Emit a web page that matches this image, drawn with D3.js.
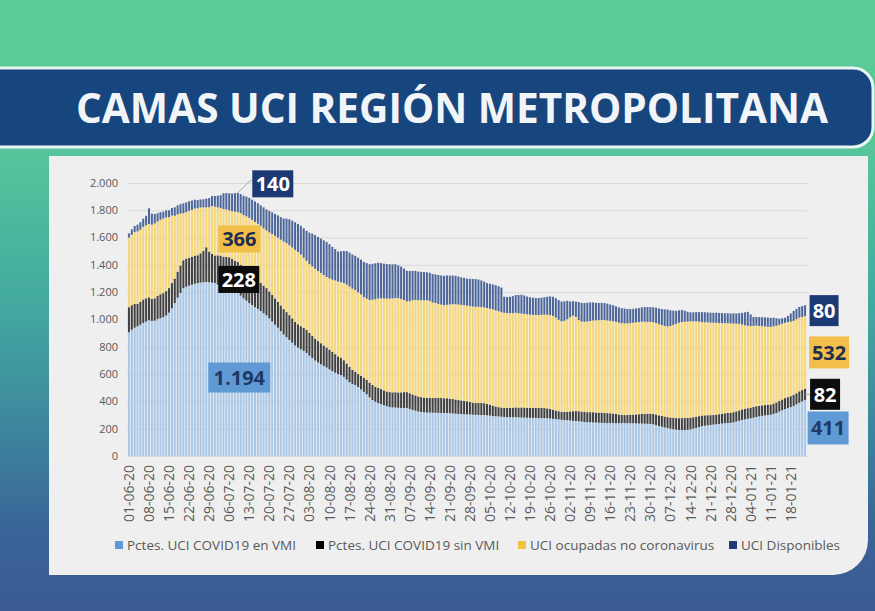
<!DOCTYPE html>
<html>
<head>
<meta charset="utf-8">
<script src="https://cdn.jsdelivr.net/npm/d3@7"></script>
<style>
  html, body { margin: 0; padding: 0; background: #3a5a94; }
  svg { display: block; }
</style>
</head>
<body>
<div id="chart"></div>
<script>
// Datos diarios 01-06-20 .. 23-01-21 (una fila = una semana)
const vmi = [
  907, 925, 940, 950, 962, 975, 985,
  995, 990, 992, 1003, 1010, 1017, 1030,
  1050, 1082, 1120, 1160, 1195, 1229, 1240,
  1248, 1255, 1262, 1266, 1270, 1273, 1275,
  1273, 1270, 1268, 1255, 1243, 1229, 1222,
  1215, 1208, 1200, 1194, 1175, 1155, 1138,
  1120, 1105, 1090, 1078, 1062, 1046, 1030,
  1008, 985, 962, 940, 915, 890, 870,
  850, 830, 810, 795, 782, 770, 755,
  735, 718, 700, 685, 672, 660, 648,
  635, 622, 610, 600, 593, 580, 560,
  540, 528, 520, 505, 488, 470, 452,
  430, 410, 398, 387, 380, 372, 365,
  359, 356, 355, 353, 352, 352, 351,
  345, 338, 332, 326, 322, 320, 318,
  318, 317, 317, 316, 316, 315, 315,
  314, 312, 310, 308, 307, 306, 305,
  304, 303, 302, 301, 300, 300, 298,
  296, 293, 291, 290, 288, 286, 285,
  285, 284, 284, 283, 282, 281, 280,
  280, 279, 279, 278, 278, 278, 277,
  275, 272, 270, 268, 265, 263, 262,
  260, 258, 256, 254, 252, 249, 248,
  247, 246, 245, 244, 243, 242, 241,
  241, 241, 240, 240, 241, 241, 240,
  240, 240, 239, 238, 238, 237, 236,
  235, 232, 226, 220, 214, 209, 205,
  200, 196, 193, 191, 190, 190, 192,
  195, 200, 206, 212, 218, 222, 225,
  227, 230, 233, 235, 238, 240, 241,
  242, 246, 252, 258, 264, 268, 272,
  276, 280, 286, 290, 294, 297, 300,
  302, 308, 315, 325, 335, 344, 351,
  358, 366, 378, 390, 400, 411
];

const sinVmi = [
  183, 180, 175, 165, 168, 172, 170,
  168, 160, 163, 170, 175, 176, 178,
  180, 185, 180, 190, 200, 205, 206,
  204, 205, 206, 205, 215, 230, 254,
  225, 210, 201, 215, 225, 231, 236,
  241, 235, 232, 228, 226, 222, 220,
  218, 215, 212, 208, 205, 202, 200,
  198, 196, 193, 190, 188, 186, 184,
  182, 178, 172, 170, 169, 168, 168,
  166, 163, 160, 157, 154, 150, 147,
  144, 140, 136, 130, 126, 122, 118,
  112, 104, 98, 95, 100, 104, 106,
  108, 110, 110, 112, 110, 109, 108,
  109, 110, 112, 113, 114, 116, 117,
  115, 113, 112, 110, 109, 108, 108,
  108, 108, 109, 110, 109, 108, 108,
  106, 105, 104, 102, 100, 98, 96,
  92, 88, 86, 88, 88, 87, 84,
  80, 76, 72, 68, 66, 66, 67,
  68, 70, 72, 72, 73, 74, 73,
  72, 73, 73, 74, 74, 73, 72,
  70, 68, 64, 60, 59, 60, 62,
  66, 70, 73, 74, 73, 74, 73,
  74, 75, 74, 73, 74, 74, 73,
  72, 70, 68, 64, 60, 59, 60,
  62, 64, 66, 68, 70, 72, 74,
  75, 76, 78, 78, 79, 80, 80,
  82, 84, 85, 86, 88, 88, 87,
  86, 84, 82, 80, 78, 76, 74,
  72, 70, 70, 71, 72, 73, 74,
  74, 75, 75, 76, 77, 78, 78,
  78, 79, 79, 78, 77, 76, 75,
  75, 76, 77, 78, 79, 80, 80,
  80, 81, 82, 84, 83, 82
];

const noCovid = [
  510, 515, 525, 530, 528, 532, 535,
  537, 545, 548, 545, 546, 547, 540,
  520, 495, 460, 420, 380, 344, 340,
  345, 344, 345, 344, 336, 318, 293,
  324, 351, 358, 352, 348, 350, 348,
  344, 350, 358, 366, 378, 388, 398,
  407, 410, 413, 415, 418, 420, 422,
  432, 445, 458, 470, 482, 495, 505,
  512, 520, 528, 530, 525, 515, 507,
  505, 508, 512, 513, 515, 516, 517,
  522, 530, 540, 548, 555, 565, 578,
  590, 594, 598, 600, 596, 590, 595,
  605, 625, 640, 655, 665, 673, 680,
  685, 688, 690, 691, 685, 675, 664,
  675, 690, 700, 705, 710, 713, 715,
  710, 700, 695, 688, 684, 682, 685,
  690, 695, 698, 700, 700, 701, 700,
  702, 704, 705, 704, 703, 702, 702,
  703, 705, 704, 703, 700, 697, 695,
  693, 692, 693, 690, 688, 686, 685,
  683, 682, 681, 681, 682, 684, 686,
  688, 686, 680, 670, 662, 668, 678,
  690, 700, 690, 668, 660, 660, 664,
  668, 672, 675, 678, 680, 680, 679,
  677, 676, 675, 673, 672, 672, 671,
  671, 672, 674, 675, 676, 675, 673,
  672, 672, 670, 668, 666, 664, 664,
  670, 680, 690, 700, 704, 706, 706,
  706, 703, 698, 692, 686, 682, 680,
  678, 676, 673, 668, 664, 660, 658,
  655, 650, 642, 634, 622, 612, 604,
  598, 594, 590, 585, 580, 576, 572,
  569, 566, 562, 558, 555, 552, 550,
  546, 543, 542, 540, 536, 532
];

const disponibles = [
  30, 40, 45, 50, 55, 60, 70,
  115, 80, 70, 60, 55, 50, 52,
  50, 55, 62, 66, 70, 73, 72,
  70, 68, 65, 60, 58, 60, 63,
  68, 73, 78, 85, 95, 115, 120,
  125, 130, 136, 140, 140, 142, 144,
  146, 148, 150, 151, 152, 154, 155,
  157, 159, 161, 163, 165, 169, 180,
  190, 196, 202, 205, 210, 215, 220,
  230, 240, 247, 250, 252, 254, 256,
  250, 240, 230, 220, 225, 235, 245,
  248, 250, 251, 252, 255, 258, 260,
  262, 263, 264, 262, 258, 255, 253,
  252, 250, 248, 240, 236, 230, 225,
  220, 215, 212, 210, 208, 206, 205,
  206, 208, 210, 212, 214, 215, 214,
  212, 210, 208, 205, 202, 200, 198,
  200, 202, 203, 200, 195, 188, 183,
  182, 183, 184, 183, 180, 118, 118,
  120, 125, 130, 135, 138, 135, 130,
  128, 126, 124, 124, 125, 128, 132,
  136, 140, 142, 144, 146, 142, 135,
  116, 106, 112, 132, 136, 138, 138,
  136, 132, 128, 126, 125, 124, 123,
  120, 117, 114, 112, 110, 108, 106,
  104, 102, 102, 103, 105, 107, 108,
  109, 110, 112, 115, 118, 121, 124,
  115, 105, 95, 90, 88, 80, 72,
  65, 66, 68, 70, 72, 73, 73,
  73, 73, 74, 74, 73, 73, 73,
  73, 74, 75, 78, 85, 95, 102,
  85, 66, 64, 65, 66, 66, 67,
  66, 64, 55, 45, 40, 37, 45,
  60, 73, 76, 78, 79, 80
];

const yTicks = [0, 200, 400, 600, 800, 1000, 1200, 1400, 1600, 1800, 2000];
const seriesNames = ["Pctes. UCI COVID19 en VMI", "Pctes. UCI COVID19 sin VMI",
                     "UCI ocupadas no coronavirus", "UCI Disponibles"];
const labelDay = "09-07-20";

const fmtDate = d3.timeFormat("%d-%m-%y");
const dates = d3.timeDay.range(new Date(2020, 5, 1), new Date(2021, 0, 24)).map(fmtDate);
const tickLabels = dates.filter((d, i) => i % 7 === 0);

const es = d3.formatLocale({ decimal: ",", thousands: ".", grouping: [3], currency: ["$", ""] });
const fmt = es.format(",d");

const keys = ["vmi", "sinVmi", "noCovid", "disponibles"];
const barColors = ["#a9c8e8", "#404040", "#f7d676", "#4d6699"];
const legendColors = ["#5b9bd5", "#000000", "#f5c242", "#1f3a78"];
const table = dates.map((d, i) => ({
  date: d, vmi: vmi[i], sinVmi: sinVmi[i], noCovid: noCovid[i], disponibles: disponibles[i]
}));

const W = 875, H = 611;
const font = "'Open Sans', sans-serif";
const svg = d3.select("#chart").append("svg").attr("width", W).attr("height", H);

// Fondo degradado
const grad = svg.append("defs").append("linearGradient")
  .attr("id", "bg").attr("x1", 0).attr("y1", 0).attr("x2", 0).attr("y2", 1);
[[0, "#5dcc98"], [0.22, "#58c89a"], [0.5, "#43a9a0"], [0.7, "#3d869d"], [0.87, "#3a6497"], [1, "#3a5a94"]]
  .forEach(s => grad.append("stop").attr("offset", s[0]).attr("stop-color", s[1]));
svg.append("rect").attr("width", W).attr("height", H).attr("fill", "url(#bg)");

// Banda del título
svg.append("path")
  .attr("d", "M-10,68 H853 A20,20 0 0 1 873,88 V127 A20,20 0 0 1 853,147 H-10 Z")
  .attr("fill", "#17467f").attr("stroke", "#e9f5f0").attr("stroke-width", 3);
svg.append("text")
  .attr("x", 452).attr("y", 123).attr("text-anchor", "middle")
  .attr("fill", "#f2f5f8")
  .attr("textLength", 752).attr("lengthAdjust", "spacingAndGlyphs")
  .style("font-family", font).style("font-weight", 700).style("font-size", "42px")
  .text("CAMAS UCI REGIÓN METROPOLITANA");

// Panel del gráfico
svg.append("path")
  .attr("d", "M49,156 H868 V540 A35,35 0 0 1 833,575 H49 Z")
  .attr("fill", "#efefef");

const x = d3.scaleBand().domain(dates).range([127.5, 806.5]).paddingInner(0.3).paddingOuter(0.15);
const y = d3.scaleLinear().domain([0, 2000]).range([456, 183]);

// Grilla
svg.append("g").selectAll("line").data(yTicks).join("line")
  .attr("x1", 127).attr("x2", 807)
  .attr("y1", d => y(d) + 0.5).attr("y2", d => y(d) + 0.5)
  .attr("stroke", "#d9d9d9").attr("stroke-width", 1);

// Eje Y
svg.append("g").selectAll("text").data(yTicks).join("text")
  .attr("x", 118).attr("y", d => y(d)).attr("dy", "0.35em")
  .attr("text-anchor", "end").attr("fill", "#595959")
  .style("font-family", font).style("font-size", "11px")
  .text(d => fmt(d));

// Barras apiladas
const stacked = d3.stack().keys(keys)(table);
svg.append("g").selectAll("g").data(stacked).join("g")
  .attr("fill", (d, i) => barColors[i])
  .selectAll("rect").data(d => d).join("rect")
  .attr("x", d => x(d.data.date))
  .attr("width", x.bandwidth())
  .attr("y", d => y(d[1]))
  .attr("height", d => y(d[0]) - y(d[1]));

// Eje X
const xAxis = svg.append("g")
  .attr("transform", "translate(0,456)")
  .call(d3.axisBottom(x).tickValues(tickLabels).tickSize(0));
xAxis.select(".domain").attr("stroke", "#d9d9d9");
xAxis.selectAll("text")
  .attr("transform", "rotate(-90)")
  .attr("x", -9).attr("y", 0).attr("dy", "0.36em")
  .attr("text-anchor", "end").attr("fill", "#595959")
  .style("font-family", font).style("font-size", "14px");

// Leyenda
const legendX = [115, 316, 518, 729];
const legend = svg.append("g").selectAll("g").data(seriesNames).join("g")
  .attr("transform", (d, i) => `translate(${legendX[i]},545)`);
legend.append("rect").attr("x", 0).attr("y", -4).attr("width", 8).attr("height", 8)
  .attr("fill", (d, i) => legendColors[i]);
legend.append("text").attr("x", 12).attr("y", 0).attr("dy", "0.36em")
  .attr("fill", "#595959").style("font-family", font).style("font-size", "13.5px")
  .text(d => d);

// Etiquetas de datos
function tag(cx, cy, w, h, fill, color, txt, size) {
  svg.append("rect").attr("x", cx - w / 2).attr("y", cy - h / 2)
    .attr("width", w).attr("height", h).attr("fill", fill);
  svg.append("text").attr("x", cx).attr("y", cy).attr("dy", "0.36em")
    .attr("text-anchor", "middle").attr("fill", color)
    .style("font-family", font).style("font-weight", 700).style("font-size", size + "px")
    .text(txt);
}

const boxFill = ["#5f9ad4", "#0d0d0d", "#f2c04a", "#1b3a73"];
const boxText = ["#1f3864", "#ffffff", "#1f2d50", "#ffffff"];

// Día del máximo
const pk = dates.indexOf(labelDay);
const pkStack = stacked.map(s => s[pk]);
const px = x(labelDay) + x.bandwidth() / 2;
const pTop = y(pkStack[3][1]);
svg.append("path")
  .attr("d", `M${px},${pTop} L${px + 12},${pTop - 12} L${px + 14},${pTop - 12}`)
  .attr("fill", "none").attr("stroke", "#a6a6a6").attr("stroke-width", 1);
tag(px + 35, pTop - 9, 41, 27, boxFill[3], boxText[3], fmt(disponibles[pk]), 20);
tag(px + 1.5, y((pkStack[2][0] + pkStack[2][1]) / 2) + 2, 42, 27, boxFill[2], boxText[2], fmt(noCovid[pk]), 20);
tag(px + 1, y((pkStack[1][0] + pkStack[1][1]) / 2) + 2, 41, 27, boxFill[1], boxText[1], fmt(sinVmi[pk]), 20);
tag(px + 1.5, y((pkStack[0][0] + pkStack[0][1]) / 2) + 3, 62, 30, boxFill[0], boxText[0], fmt(vmi[pk]), 20);

// Último día
const last = dates.length - 1;
const lStack = stacked.map(s => s[last]);
const lx = x(dates[last]) + x.bandwidth() + 2;
const mid = k => y((lStack[k][0] + lStack[k][1]) / 2);
svg.append("line").attr("x1", lx - 3).attr("x2", lx + 4)
  .attr("y1", mid(1)).attr("y2", mid(1)).attr("stroke", "#a6a6a6");
tag(lx + 16, mid(3), 29, 31, boxFill[3], boxText[3], fmt(disponibles[last]), 20);
tag(lx + 21, mid(2), 40, 32, boxFill[2], boxText[2], fmt(noCovid[last]), 20);
tag(lx + 17, mid(1), 30, 31, boxFill[1], boxText[1], fmt(sinVmi[last]), 20);
tag(lx + 20, mid(0), 41, 33, boxFill[0], boxText[0], fmt(vmi[last]), 20);
</script>
</body>
</html>
